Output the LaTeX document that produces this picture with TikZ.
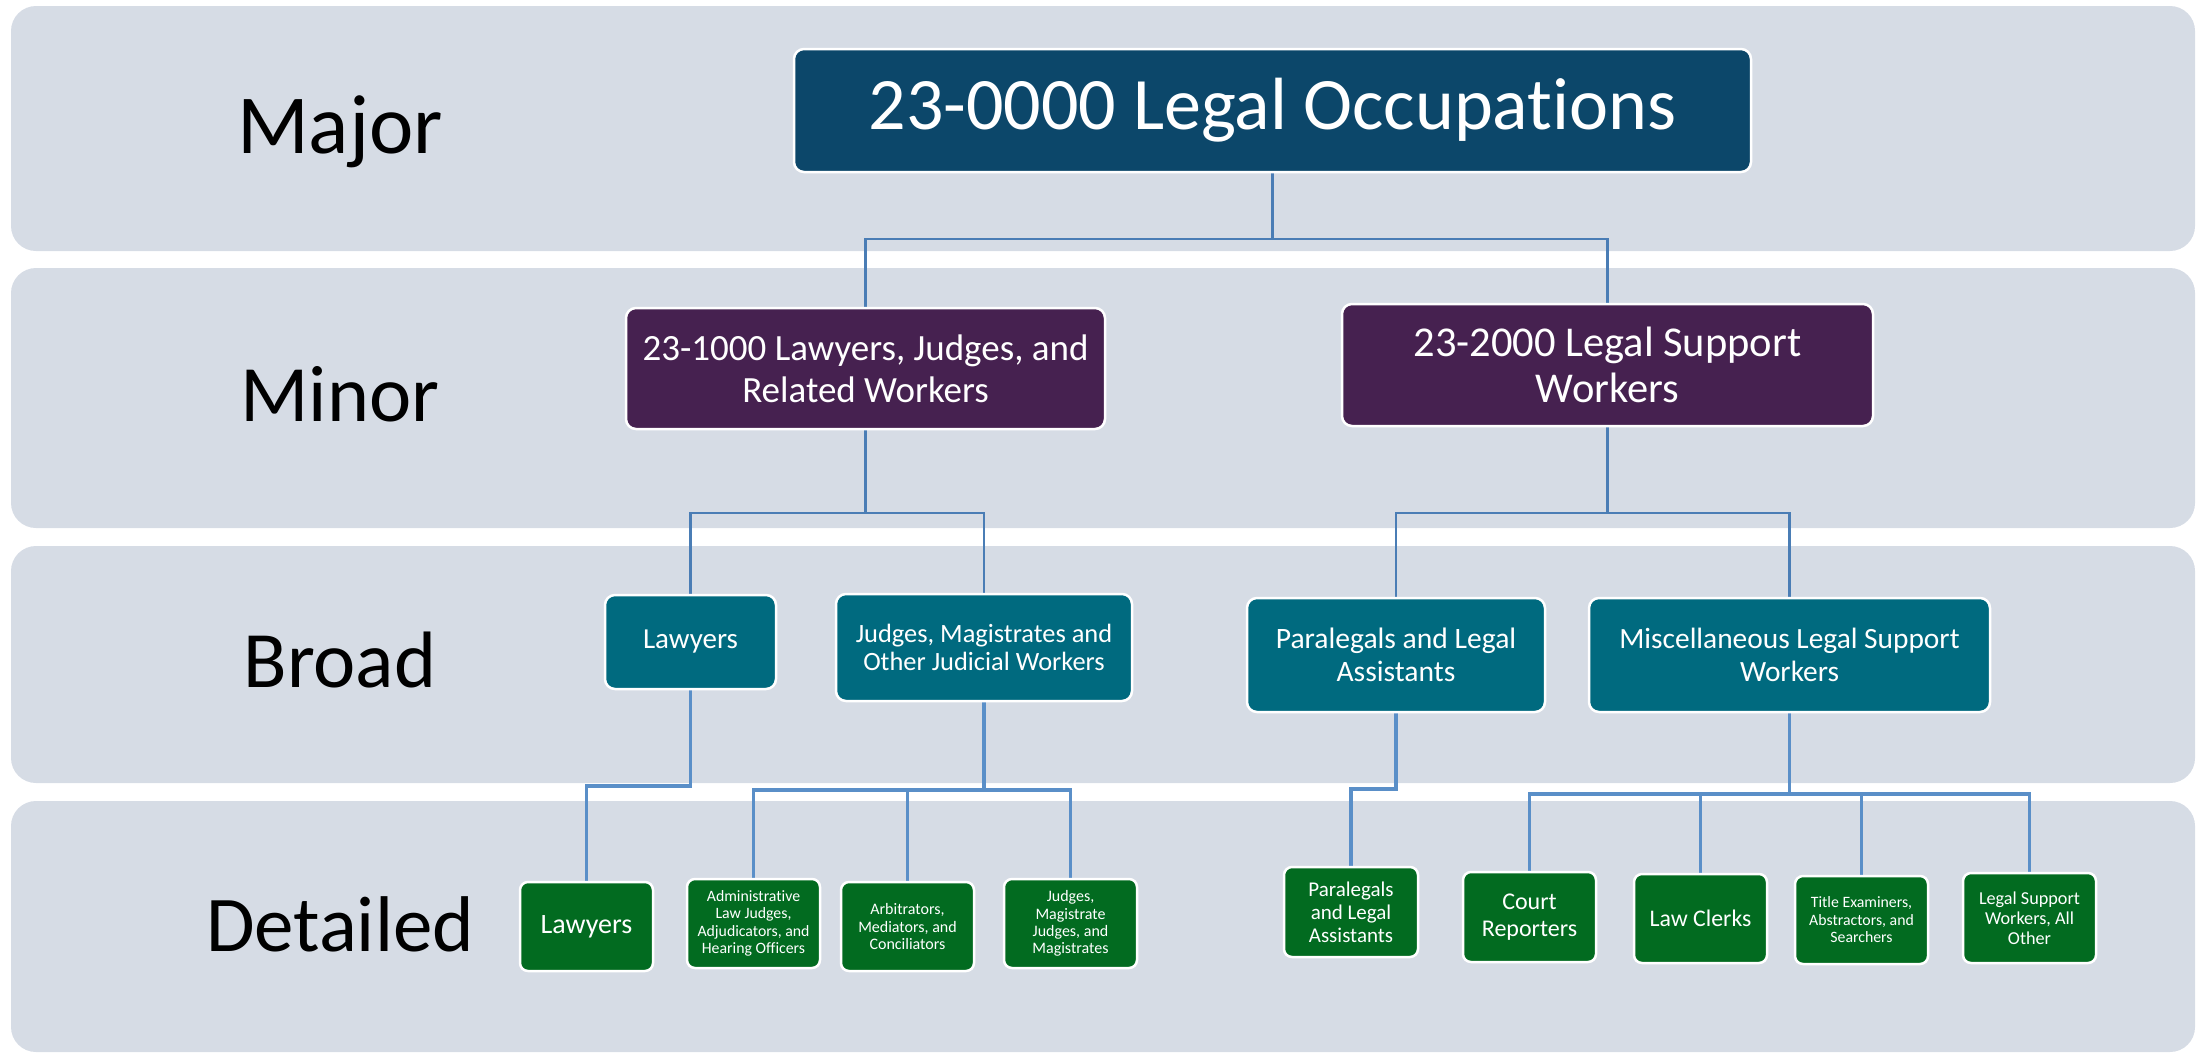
\documentclass[tikz,border=0pt]{standalone}
\usepackage{fontspec}
\setmainfont{Carlito}[Ligatures=NoCommon]
\newcommand\nolig{\kern0pt{}}
\definecolor{bandc}{HTML}{D6DCE5}
\definecolor{majc}{HTML}{0C476A}
\definecolor{minc}{HTML}{462150}
\definecolor{broc}{HTML}{006A7F}
\definecolor{detc}{HTML}{026B20}
\definecolor{lnA}{HTML}{4A7DB5}
\definecolor{lnB}{HTML}{5A8FC8}
\pgfdeclarelayer{bg}
\pgfsetlayers{bg,main}
\begin{document}
\begin{tikzpicture}[x=1pt,y=-1pt,
  bandbox/.style={fill=bandc, rounded corners=25pt},
  box/.style={draw=white, line width=2.5pt, rounded corners=10pt, text=white,
    align=center, inner sep=0pt, outer sep=0pt},
  majbox/.style={box, fill=majc},
  minbox/.style={box, fill=minc},
  brobox/.style={box, fill=broc},
  detbox/.style={box, fill=detc, rounded corners=8pt, minimum width=133pt, minimum height=89pt},
  lvl/.style={anchor=base, text=black, inner sep=0pt},
  connA/.style={draw=lnA, line width=2.2pt},
  connB/.style={draw=lnB, line width=3.2pt}]
\useasboundingbox (0,0) rectangle (2197,1053);

% level labels
\node[lvl, font=\fontsize{84}{90}\selectfont] (lmaj) at (340,153) {Major};
\node[lvl, font=\fontsize{80}{86}\selectfont] (lmin) at (340,421) {Minor};
\node[lvl, font=\fontsize{80}{86}\selectfont] (lbro) at (340,687) {Broad};
\node[lvl, font=\fontsize{79}{85}\selectfont] (ldet) at (340,951) {Detailed};

% major
\node[majbox, minimum width=957pt, minimum height=123pt, font=\fontsize{74}{80}\selectfont]
  (maj) at (1272.5,110.5) {23-0000 Legal Occupat\nolig ions};

% minor
\node[minbox, minimum width=479pt, minimum height=121pt, font=\fontsize{37}{42}\selectfont]
  (m1) at (865.5,368.5) {23-1000 Lawyers, Judges, and\\Related Workers};
\node[minbox, minimum width=531pt, minimum height=122pt, font=\fontsize{42.5}{46}\selectfont]
  (m2) at (1607.5,365) {23-2000 Legal Support\\Workers};

% broad
\node[brobox, minimum width=171pt, minimum height=94pt, font=\fontsize{29}{32}\selectfont]
  (b1) at (690.5,642) {Lawyers};
\node[brobox, minimum width=296pt, minimum height=107pt, font=\fontsize{26.4}{28.5}\selectfont]
  (b2) at (984,647.5) {Judges, Magistrates and\\Other Judicial Workers};
\node[brobox, minimum width=298pt, minimum height=114pt, font=\fontsize{29.6}{33}\selectfont]
  (b3) at (1396,655) {Paralegals and Legal\\Assistants};
\node[brobox, minimum width=401pt, minimum height=114pt, font=\fontsize{29.4}{33}\selectfont]
  (b4) at (1789.5,655) {Miscellaneous Legal Support\\Workers};

% detailed
\node[detbox, font=\fontsize{28}{31}\selectfont] (d1) at (586.5,926.5) {Lawyers};
\node[detbox, font=\fontsize{15.8}{17.3}\selectfont] (d2) at (753.5,923.5)
  {Administrat\nolig ive\\Law Judges,\\Adjudicators, and\\Hearing Officers};
\node[detbox, font=\fontsize{16}{17.3}\selectfont] (d3) at (907.5,926.5)
  {Arbitrators,\\Mediators, and\\Conciliators};
\node[detbox, font=\fontsize{16}{17.3}\selectfont] (d4) at (1070.5,923.5)
  {Judges,\\Magistrate\\Judges, and\\Magistrates};
\node[detbox, minimum width=134pt, minimum height=90pt, font=\fontsize{21}{23}\selectfont] (d5) at (1351,912)
  {Paralegals\\and Legal\\Assistants};
\node[detbox, minimum height=90pt, font=\fontsize{24}{27}\selectfont] (d6) at (1529.5,917)
  {Court\\Reporters};
\node[detbox, font=\fontsize{23.8}{26}\selectfont] (d7) at (1700.5,918.5) {Law Clerks};
\node[detbox, minimum height=88pt, font=\fontsize{15.8}{17.5}\selectfont] (d8) at (1861.5,920)
  {Title Examiners,\\Abstractors, and\\Searchers};
\node[detbox, minimum height=90pt, font=\fontsize{18.2}{20}\selectfont] (d9) at (2029.5,918)
  {Legal Support\\Workers, All\\Other};

\begin{pgfonlayer}{bg}
  \fill[bandbox] (11,6) rectangle (2195,251);
  \fill[bandbox] (11,268) rectangle (2195,528);
  \fill[bandbox] (11,546) rectangle (2195,783);
  \fill[bandbox] (11,801) rectangle (2195,1052);

  \draw[connA] (maj.south) -- ++(0,-67pt) -| (m1.north);
  \draw[connA] (maj.south) -- ++(0,-67pt) -| (m2.north);

  \draw[connA] (m1.south) -- ++(0,-84pt) -| (b1.north);
  \draw[connA] (m1.south) -- ++(0,-84pt) -| (b2.north);
  \draw[connA] (m2.south) -- ++(0,-87pt) -| (b3.north);
  \draw[connA] (m2.south) -- ++(0,-87pt) -| (b4.north);

  \draw[connB] (b1.south) -- ++(0,-97pt) -| (d1.north);
  \draw[connB] (b2.south) -- ++(0,-89pt) -| (d2.north);
  \draw[connB] (b2.south) -- ++(0,-89pt) -| (d3.north);
  \draw[connB] (b2.south) -- ++(0,-89pt) -| (d4.north);
  \draw[connB] (b3.south) -- ++(0,-77pt) -| (d5.north);
  \draw[connB] (b4.south) -- ++(0,-82pt) -| (d6.north);
  \draw[connB] (b4.south) -- ++(0,-82pt) -| (d7.north);
  \draw[connB] (b4.south) -- ++(0,-82pt) -| (d8.north);
  \draw[connB] (b4.south) -- ++(0,-82pt) -| (d9.north);
\end{pgfonlayer}
\end{tikzpicture}
\end{document}
